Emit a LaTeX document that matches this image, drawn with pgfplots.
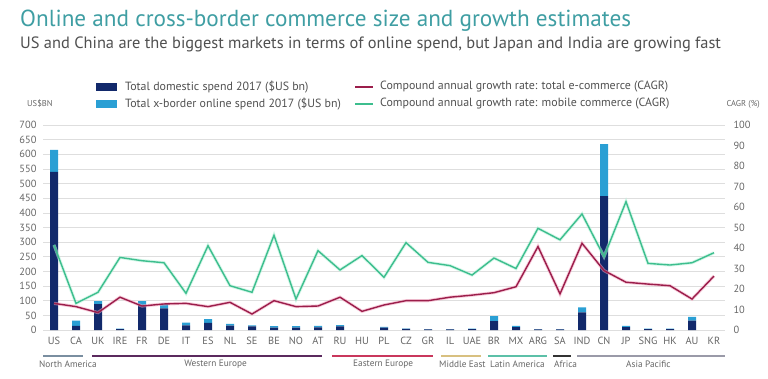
\documentclass[border=0pt]{standalone}
\usepackage{pgfplots}
\pgfplotsset{compat=1.18}
\usepackage{pgfplotstable}
\usepackage{fontspec}
\setmainfont{PT Sans}
\definecolor{navy}{HTML}{12296B}
\definecolor{lblue}{HTML}{2A9FD4}
\definecolor{crim}{HTML}{9B1E4B}
\definecolor{crimglow}{HTML}{F3A6C0}
\definecolor{mint}{HTML}{3DBE8E}
\definecolor{mintglow}{HTML}{B5F0D8}
\definecolor{titleteal}{HTML}{3F9EA3}
\definecolor{subgray}{HTML}{505050}
\definecolor{tickgray}{HTML}{666666}
\definecolor{regNA}{HTML}{7A8EA0}
\definecolor{regWE}{HTML}{5B2A5E}
\definecolor{regEE}{HTML}{C9375C}
\definecolor{regME}{HTML}{D8C080}
\definecolor{regLA}{HTML}{5CC0A8}
\definecolor{regAF}{HTML}{333333}
\definecolor{regAP}{HTML}{9A9AA8}

\pgfplotstableread{
idx dom xb red mob
0 540 75 13.0 41.5
1 14 18 11.4 13.0
2 88 11 8.5 18.4
3 3 2 16.0 35.4
4 85 14 11.7 33.8
5 74 15 12.7 32.8
6 16 9 13.0 17.9
7 24 13 11.4 41.1
8 15 6 13.5 21.6
9 12 4 7.8 18.4
10 8 5 14.3 46.2
11 8 5 11.4 15.1
12 9 5 11.7 38.7
13 12 5 16.0 29.3
14 0 0 9.1 36.3
15 8 3 12.2 25.7
16 4 1 14.3 42.6
17 2 1 14.3 33.0
18 2 1 16.0 31.4
19 3 2 17.0 26.8
20 30 17 18.2 35.1
21 10 4 21.1 30.0
22 2 1 40.7 49.6
23 2 1 17.6 44.0
24 60 17 42.3 56.6
25 457 178 29.0 35.8
26 10 4 23.3 62.6
27 3 2 22.4 32.5
28 3 2 21.6 31.7
29 32 13 15.1 32.8
30 0 0 26.3 37.7
}\data

\begin{document}
\begin{tikzpicture}[x=1pt,y=1pt]
\useasboundingbox (0,0) rectangle (768,378);
\node[anchor=base west, font=\fontsize{23.2}{27}\selectfont, text=titleteal, inner sep=0] at (20,351) {Online and cross-border commerce size and growth estimates};
\node[anchor=base west, font=\fontsize{16.4}{19}\selectfont, text=subgray, inner sep=0] at (20,329) {US and China are the biggest markets in terms of online spend, but Japan and India are growing fast};

% legend
\fill[navy] (96,287) rectangle (117,295);
\node[anchor=west, font=\fontsize{11.9}{13}\selectfont, text=subgray, inner sep=0] at (125,291) {Total domestic spend 2017 (\$US bn)};
\fill[lblue] (96,270) rectangle (117,278);
\node[anchor=west, font=\fontsize{11.9}{13}\selectfont, text=subgray, inner sep=0] at (125,274) {Total x-border online spend 2017 (\$US bn)};
\draw[crim, line width=1.5pt] (355,291) -- (373,291);
\node[anchor=west, font=\fontsize{11.9}{13}\selectfont, text=subgray, inner sep=0] at (380,291) {Compound annual growth rate: total e-commerce (CAGR)};
\draw[mint, line width=1.5pt] (355,274) -- (373,274);
\node[anchor=west, font=\fontsize{11.9}{13}\selectfont, text=subgray, inner sep=0] at (380,274) {Compound annual growth rate: mobile commerce (CAGR)};
\node[anchor=west, font=\fontsize{8.5}{10}\selectfont, text=tickgray, inner sep=0] at (27,274) {US\$BN};
\node[anchor=east, font=\fontsize{8.5}{10}\selectfont, text=tickgray, inner sep=0] at (760,274) {CAGR (\%)};

% region brackets
\draw[regNA, line width=1.2pt] (43,22) -- (82.6,22);
\draw[regWE, line width=1.2pt] (92.1,22) -- (322.4,22);
\draw[regEE, line width=1.2pt] (332.1,22) -- (433.1,22);
\draw[regME, line width=1.2pt] (441,22) -- (481,22);
\draw[regLA, line width=1.2pt] (488,22) -- (547,22);
\draw[regAF, line width=1.2pt] (553,22) -- (571,22);
\draw[regAP, line width=1.2pt] (577,22) -- (725,22);
\node[anchor=west, font=\fontsize{9.3}{11}\selectfont, text=tickgray, inner sep=0] at (39,13.5) {North America};
\node[font=\fontsize{9.3}{11}\selectfont, text=tickgray, inner sep=0] at (215.6,13.5) {Western Europe};
\node[anchor=west, font=\fontsize{9.3}{11}\selectfont, text=tickgray, inner sep=0] at (353,13.5) {Eastern Europe};
\node[anchor=west, font=\fontsize{9.3}{11}\selectfont, text=tickgray, inner sep=0] at (439,13.5) {Middle East};
\node[anchor=west, font=\fontsize{9.3}{11}\selectfont, text=tickgray, inner sep=0] at (490,13.5) {Latin America};
\node[anchor=west, font=\fontsize{9.3}{11}\selectfont, text=tickgray, inner sep=0] at (554,13.5) {Africa};
\node[anchor=west, font=\fontsize{9.3}{11}\selectfont, text=tickgray, inner sep=0] at (626,13.5) {Asia Pacific};

\begin{axis}[
  at={(43pt,48pt)}, anchor=south west, scale only axis,
  width=682pt, height=205pt,
  xmin=-0.5, xmax=30.5, ymin=0, ymax=700,
  ytick={0,50,...,700},
  xtick={0,...,30},
  xticklabels={US,CA,UK,IRE,FR,DE,IT,ES,NL,SE,BE,NO,AT,RU,HU,PL,CZ,GR,IL,UAE,BR,MX,ARG,SA,IND,CN,JP,SNG,HK,AU,KR},
  ymajorgrids, grid style={black!13, line width=0.7pt},
  axis line style={draw=none}, major tick length=0pt,
  ybar stacked, bar width=8pt,
  /pgf/number format/assume math mode=true,
  tick label style={font=\fontsize{10.4}{12}\selectfont, text=tickgray},
  yticklabel style={xshift=-3pt},
  xticklabel style={yshift=-4pt},
]
\addplot[fill=navy, draw=none] table[x=idx, y=dom] {\data};
\addplot[fill=lblue, draw=none] table[x=idx, y=xb] {\data};
\end{axis}

\begin{axis}[
  at={(43pt,48pt)}, anchor=south west, scale only axis,
  width=682pt, height=205pt,
  xmin=-0.5, xmax=30.5, ymin=0, ymax=100,
  ytick={0,10,...,100},
  axis y line*=right, axis x line=none,
  axis line style={draw=none}, major tick length=0pt,
  /pgf/number format/assume math mode=true,
  tick label style={font=\fontsize{10.4}{12}\selectfont, text=tickgray},
  yticklabel style={xshift=5pt},
]
\addplot[crimglow, line width=3.2pt, opacity=0.55, forget plot] table[x=idx, y=red] {\data};
\addplot[mintglow, line width=3.2pt, opacity=0.55, forget plot] table[x=idx, y=mob] {\data};
\addplot[crim, line width=1.4pt] table[x=idx, y=red] {\data};
\addplot[mint, line width=1.4pt] table[x=idx, y=mob] {\data};
\end{axis}
\end{tikzpicture}
\end{document}
